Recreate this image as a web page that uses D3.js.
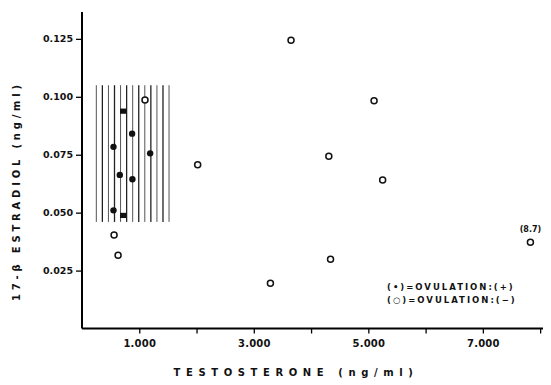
<!DOCTYPE html>
<html>
<head>
<meta charset="utf-8">
<script src="https://cdn.jsdelivr.net/npm/d3@7"></script>
<style>
  html, body { margin: 0; padding: 0; background: #fff; }
  text { font-family: "DejaVu Sans", "Liberation Sans", Arial, sans-serif; font-weight: bold; fill: #111; }
</style>
</head>
<body>
<svg id="chart" width="551" height="385"></svg>
<script>
// ---- data ----
const xTickValues = [1, 2, 3, 4, 5, 6, 7, 8];
const xTickLabels = ["1.000", "", "3.000", "", "5.000", "", "7.000", ""];
const yTickValues = [0.025, 0.050, 0.075, 0.100, 0.125];
const yTickLabels = ["0.025", "0.050", "0.075", "0.100", "0.125"];

// ovulation (+) : filled dots
const ovPosX = [0.55, 0.875, 1.19, 0.66, 0.88, 0.55];
const ovPosY = [0.0784, 0.0841, 0.0756, 0.0663, 0.0644, 0.0510];
// ovulation (+) drawn with square marks
const ovSqX = [0.72, 0.72];
const ovSqY = [0.0938, 0.0488];
// ovulation (-) : open circles
const ovNegX = [1.10, 0.56, 0.63, 2.02, 3.65, 5.10, 4.31, 5.25, 3.29, 4.34, 7.83];
const ovNegY = [0.0986, 0.0404, 0.0316, 0.0707, 0.1244, 0.0983, 0.0743, 0.0641, 0.0195, 0.0299, 0.0372];
const offScaleLabel = "(8.7)";
const offScaleIndex = 10;

// shaded (normal range) band
const bandX = [0.25, 1.52];
const bandY = [0.046, 0.105];
const bandLineCount = 13;

const legendLines = ["(\u2022)=OVULATION:(+)", "(\u25CB)=OVULATION:(\u2212)"];
const xTitle = "TESTOSTERONE  (ng/ml)";
const yTitle = "17-\u03B2  ESTRADIOL  (ng/ml)";

// ---- layout ----
const svg = d3.select("#chart");
const x = d3.scaleLinear().domain([0, 8.05]).range([82, 543]);
const y = d3.scaleLinear().domain([0, 0.1366]).range([328.5, 12]);

// band hatch
const hatch = d3.range(bandLineCount).map(i => bandX[0] + i * (bandX[1] - bandX[0]) / (bandLineCount - 1));
svg.append("g").selectAll("line").data(hatch).join("line")
  .attr("x1", d => x(d)).attr("x2", d => x(d))
  .attr("y1", y(bandY[1])).attr("y2", y(bandY[0]))
  .attr("stroke", (d, i) => i % 2 ? "#222" : "#555")
  .attr("stroke-width", (d, i) => i % 2 ? 1.3 : 1.0);

// axes
const xAxis = d3.axisBottom(x).tickValues(xTickValues)
  .tickFormat((d, i) => xTickLabels[i]).tickSize(5).tickPadding(6).tickSizeOuter(0);
const gx = svg.append("g").attr("transform", `translate(0,${y(0)})`).call(xAxis);
gx.select(".domain").attr("stroke-width", 2).attr("d", `M${x(0)},0H${x(8.05)}`);
gx.selectAll(".tick line").attr("stroke-width", 1.3);
gx.selectAll("text").attr("font-size", 10).attr("font-family", "DejaVu Sans, Arial").attr("font-weight", "bold").attr("letter-spacing", "0.2");

const yAxis = d3.axisLeft(y).tickValues(yTickValues)
  .tickFormat((d, i) => yTickLabels[i]).tickSize(6).tickPadding(3).tickSizeOuter(0);
const gy = svg.append("g").attr("transform", `translate(${x(0)},0)`).call(yAxis);
gy.select(".domain").attr("stroke-width", 2).attr("d", `M0,${y(0.1366)}V${y(0)}`);
gy.selectAll(".tick line").attr("stroke-width", 1.3);
gy.selectAll("text").attr("font-size", 9.5).attr("font-family", "DejaVu Sans, Arial").attr("font-weight", "bold");

// points
const pos = ovPosX.map((v, i) => ({x: v, y: ovPosY[i]}));
const sq = ovSqX.map((v, i) => ({x: v, y: ovSqY[i]}));
const neg = ovNegX.map((v, i) => ({x: v, y: ovNegY[i]}));

svg.append("g").selectAll("circle").data(pos).join("circle")
  .attr("cx", d => x(d.x)).attr("cy", d => y(d.y)).attr("r", 3.2).attr("fill", "#111");
svg.append("g").selectAll("rect").data(sq).join("rect")
  .attr("x", d => x(d.x) - 3.2).attr("y", d => y(d.y) - 2.6)
  .attr("width", 6.4).attr("height", 5.2).attr("fill", "#111");
svg.append("g").selectAll("circle").data(neg).join("circle")
  .attr("cx", d => x(d.x)).attr("cy", d => y(d.y)).attr("r", 3)
  .attr("fill", "#fff").attr("stroke", "#111").attr("stroke-width", 1.5);

svg.append("text")
  .attr("x", x(ovNegX[offScaleIndex])).attr("y", y(ovNegY[offScaleIndex]) - 10)
  .attr("text-anchor", "middle").attr("font-size", 8).text(offScaleLabel);

// legend
svg.append("g").selectAll("text").data(legendLines).join("text")
  .attr("x", 387).attr("y", (d, i) => 290 + i * 13)
  .attr("font-size", 8.5).attr("letter-spacing", "2").text(d => d);

// titles
svg.append("text").attr("x", 296).attr("y", 376).attr("text-anchor", "middle")
  .attr("font-size", 10).attr("letter-spacing", "5.6").text(xTitle);
svg.append("text").attr("transform", "translate(20,191) rotate(-90)").attr("text-anchor", "middle")
  .attr("font-size", 10).attr("letter-spacing", "3.8").text(yTitle);
</script>
</body>
</html>
